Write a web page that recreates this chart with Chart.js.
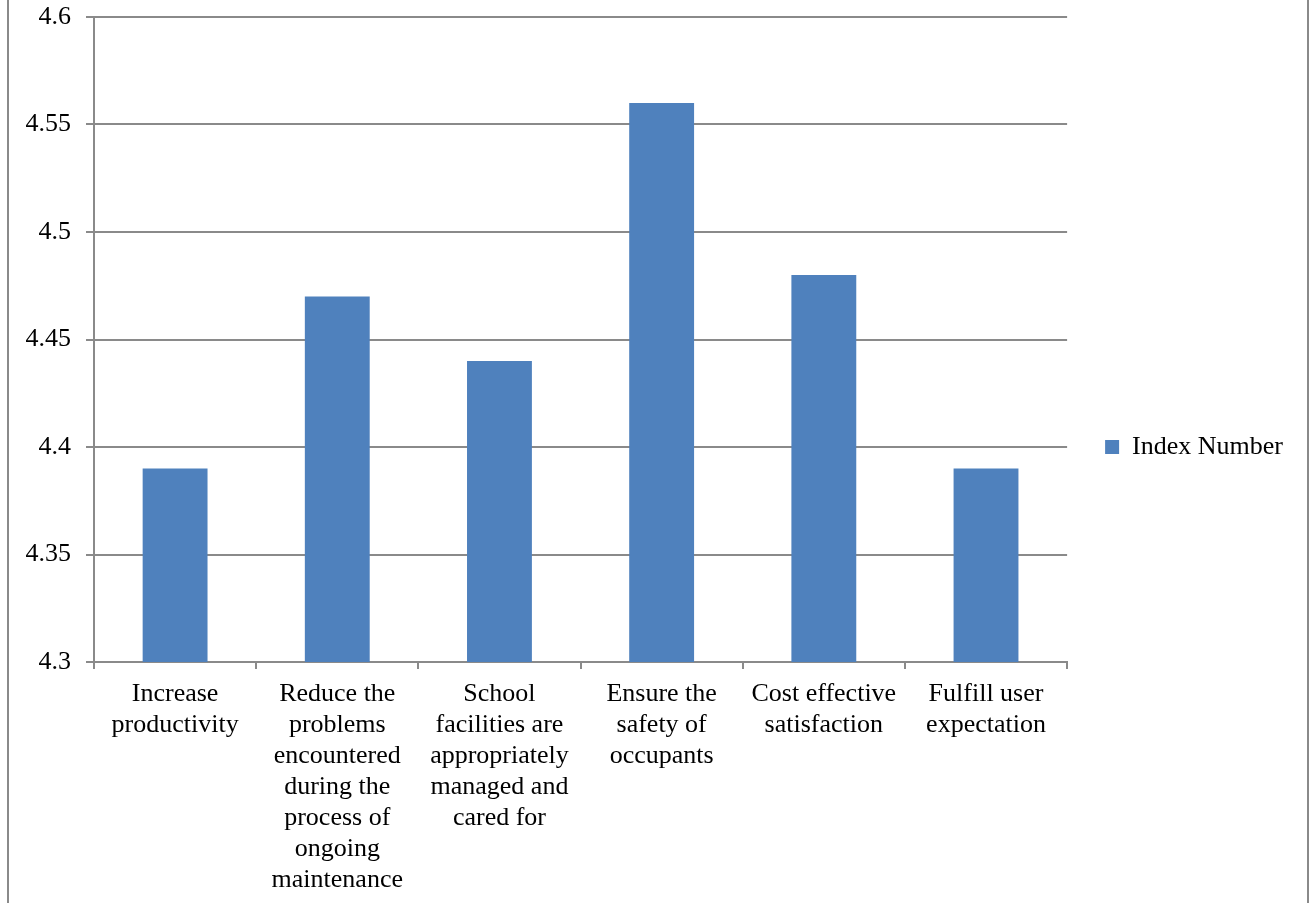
<!DOCTYPE html>
<html>
<head>
<meta charset="utf-8">
<script src="https://cdn.jsdelivr.net/npm/chart.js@4.4.1/dist/chart.umd.min.js"></script>
<style>
  html, body { margin: 0; padding: 0; background: #fff; }
  #wrap { position: relative; width: 1314px; height: 903px; }
  #frame { position: absolute; left: 7px; top: -4px; width: 1302px; height: 911px;
           border-left: 2px solid #8a8a8a; border-right: 2px solid #8a8a8a; box-sizing: border-box; pointer-events: none; }
  canvas { position: absolute; left: 0; top: 0; }
</style>
</head>
<body>
<div id="wrap">
  <canvas id="c" width="1314" height="903"></canvas>
  <div id="frame"></div>
</div>
<script>
const categories = [
  ["Increase", "productivity"],
  ["Reduce the", "problems", "encountered", "during the", "process of", "ongoing", "maintenance"],
  ["School", "facilities are", "appropriately", "managed and", "cared for"],
  ["Ensure the", "safety of", "occupants"],
  ["Cost effective", "satisfaction"],
  ["Fulfill user", "expectation"]
];
const seriesName = "Index Number";
const indexValues = [4.39, 4.47, 4.44, 4.56, 4.48, 4.39];
const yMin = 4.3;
const yMax = 4.6;
const yStep = 0.05;

const FONT = "'Liberation Serif', 'Times New Roman', serif";
const GRID = "#8a8a8a";

new Chart(document.getElementById("c"), {
  type: "bar",
  data: {
    labels: categories,
    datasets: [{
      label: seriesName,
      data: indexValues,
      backgroundColor: "#4F81BD",
      borderWidth: 0,
      categoryPercentage: 1.0,
      barPercentage: 0.4
    }]
  },
  options: {
    responsive: false,
    animation: false,
    devicePixelRatio: 1,
    layout: { padding: { left: 0, top: 0, right: 21, bottom: 9 } },
    plugins: {
      tooltip: { enabled: false },
      legend: {
        position: "right",
        align: "center",
        labels: {
          boxWidth: 14,
          boxHeight: 14,
          padding: 38,
          color: "#000",
          font: { family: FONT, size: 26 }
        }
      }
    },
    scales: {
      x: {
        offset: true,
        grid: {
          display: true,
          offset: true,
          drawOnChartArea: false,
          drawTicks: true,
          tickLength: 7,
          color: GRID,
          lineWidth: 2
        },
        border: { display: true, color: GRID, width: 2 },
        ticks: {
          color: "#000",
          padding: 10,
          maxRotation: 0,
          autoSkip: false,
          font: { family: FONT, size: 26, lineHeight: 1.19 }
        },
        afterFit(scale) { scale.height = 232; }
      },
      y: {
        min: yMin,
        max: yMax,
        grid: {
          color: GRID,
          lineWidth: 2,
          drawTicks: true,
          tickLength: 8
        },
        border: { display: true, color: GRID, width: 2 },
        ticks: {
          stepSize: yStep,
          color: "#000",
          padding: 15,
          font: { family: FONT, size: 26 },
          callback: (v) => String(Math.round(v * 100) / 100)
        },
        afterFit(scale) {
          scale.width = 94;
          scale.paddingTop = 17;
          scale.paddingBottom = 0;
        }
      }
    }
  }
});
</script>
</body>
</html>
